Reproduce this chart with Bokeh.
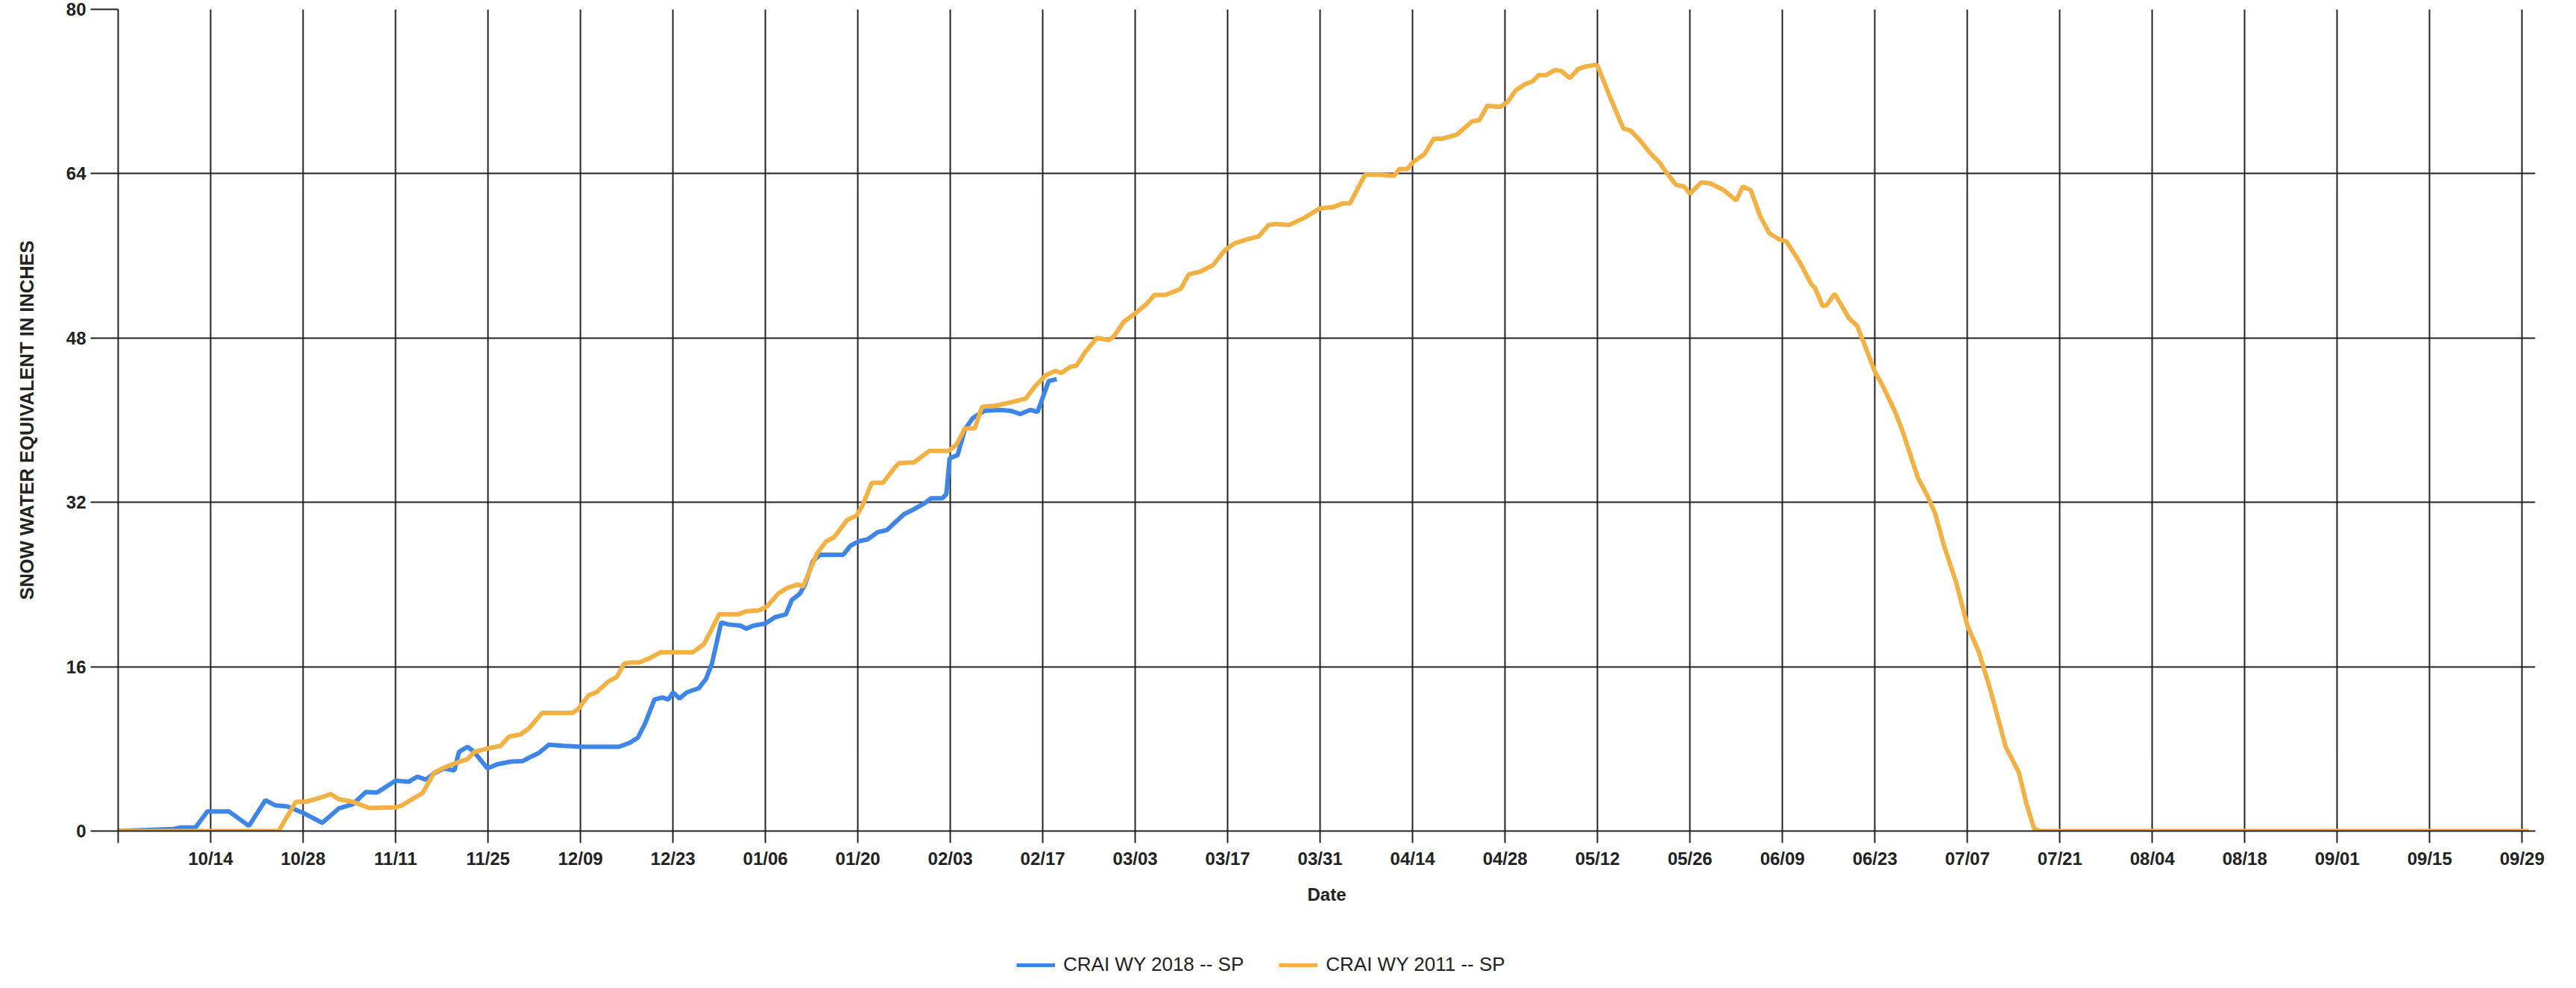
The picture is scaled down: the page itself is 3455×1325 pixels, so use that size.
from bokeh.plotting import figure
from bokeh.models import FixedTicker, Range1d
from bokeh.layouts import column
from bokeh.embed import file_html
from bokeh.resources import INLINE

# ---- data: x = days since 09/30 (start of the water year axis), y = SWE inches ----
tick_labels = ["", "10/14", "10/28", "11/11", "11/25", "12/09", "12/23", "01/06", "01/20",
               "02/03", "02/17", "03/03", "03/17", "03/31", "04/14", "04/28", "05/12",
               "05/26", "06/09", "06/23", "07/07", "07/21", "08/04", "08/18", "09/01",
               "09/15", "09/29"]
tick_days = [0, 14, 28, 42, 56, 70, 84, 98, 112, 126, 140, 154, 168, 182, 196, 210, 224,
             238, 252, 266, 280, 294, 308, 322, 336, 350, 364]
y_ticks = [0, 16, 32, 48, 64, 80]

wy2018_day = [0, 8.4, 9.5, 11.7, 13.5, 16.8, 19.8, 22.3, 23.8, 25.6, 27.9, 30.9, 33.4, 35.5,
              37.5, 39.2, 42, 44, 45.3, 46.6, 47.8, 49.3, 50.9, 51.6, 52.9, 53.9, 55.9, 57.4,
              59.4, 61.2, 62.7, 63.7, 65.2, 67.5, 70, 72.9, 75.8, 77.5, 78.7, 79.8, 81.2,
              82.4, 83.3, 84, 85, 86.1, 87.9, 89, 89.9, 91.3, 92.5, 94.2, 95.1, 96.2, 98,
              99.4, 101.1, 102, 103.2, 104, 105.2, 106.3, 109.8, 110.9, 112.1, 113.5, 115,
              116.4, 117.9, 119, 120.7, 122.2, 123.1, 124.8, 125.4, 125.9, 127.1, 128.2,
              129.4, 131.1, 133.4, 135.2, 136.6, 138.1, 139.2, 140.1, 140.9, 142.1]
wy2018_swe = [0, 0.2, 0.35, 0.35, 1.9, 1.9, 0.5, 3.0, 2.5, 2.4, 1.8, 0.8, 2.2, 2.6,
              3.8, 3.75, 4.9, 4.8, 5.3, 5.0, 5.6, 6.1, 5.9, 7.7, 8.2, 7.7, 6.1, 6.5,
              6.75, 6.8, 7.3, 7.6, 8.4, 8.3, 8.2, 8.2, 8.2, 8.6, 9.1, 10.5, 12.8,
              13.0, 12.8, 13.5, 12.9, 13.5, 13.9, 14.8, 16.3, 20.3, 20.1, 20.0, 19.7, 20.0, 20.2,
              20.8, 21.1, 22.5, 23.1, 24.0, 26.3, 26.9, 26.9, 27.8, 28.2, 28.4, 29.1,
              29.3, 30.2, 30.85, 31.4, 31.95, 32.4, 32.4, 32.8, 36.3, 36.6, 39.1,
              40.2, 40.9, 41.0, 40.9, 40.6, 41.0, 40.8, 42.4, 43.8, 44.0]

wy2011_day = [0, 24.3, 26.9, 28.4, 30.4, 32.2, 33.4, 35.5, 38, 42, 43, 44.5, 46.1, 47.8, 49.1,
              50.6, 52.9, 53.9, 55.7, 57.9, 59.2, 60.9, 62.2, 64.2, 68.8, 69.7, 71.2, 72.4,
              74.3, 75.5, 76.6, 77.5, 78.9, 80.7, 82.1, 87, 88.7, 89.9, 91, 93.9, 95.1, 97.1,
              98.3, 100, 101.4, 102.9, 103.7, 105.8, 107.2, 108.4, 110.4, 111.8, 112.7, 114.1,
              115.8, 117.6, 118.2, 120.5, 122.8, 125.7, 126.9, 128.2, 129.7, 130.8, 132.8,
              134.9, 137.4, 138.9, 140.5, 141.9, 142.8, 144.2, 145.1, 146.5, 148.2, 150,
              150.8, 152.3, 154, 155.7, 156.9, 158.6, 160.9, 162.1, 163.8, 165.8, 167.5, 169,
              170.4, 172.7, 174.2, 175.3, 177.3, 179.6, 181.9, 184, 185.4, 186.5, 188.8,
              190.9, 193.2, 194, 195.2, 196, 197.8, 199.2, 200.4, 202.7, 205, 206.1, 207.3,
              209.3, 210.4, 211.6, 213, 214.2, 215.1, 216.2, 217.6, 218.5, 219.8, 221.1, 222,
              223.7, 224, 225.8, 227.9, 229, 230.5, 231.9, 233.3, 234.5, 235.9, 237.1, 238,
              239.7, 241.1, 243.1, 245, 246, 247.2, 248.6, 250, 251.5, 252.6, 254.6, 256.4,
              256.9, 258.1, 258.7, 259.9, 262.1, 263.3, 264.4, 266, 267.3, 269, 270.2, 272.5,
              273.9, 275.1, 276.5, 278.3, 280, 281.7, 283.5, 285.8, 287.8, 288.9, 290.1,
              290.9, 365]
wy2011_swe = [0, 0, 2.85, 2.85, 3.2, 3.6, 3.1, 2.85, 2.25, 2.3, 2.5, 3.1, 3.7, 5.65, 6.1,
              6.5, 7.0, 7.7, 8.0, 8.3, 9.2, 9.4, 10.0, 11.5, 11.5, 11.9, 13.2, 13.5,
              14.6, 15.0, 16.3, 16.4, 16.4, 16.9, 17.4, 17.4, 18.2, 19.7, 21.1, 21.1, 21.4, 21.5,
              21.9, 23.15, 23.7, 24.0, 23.8, 27.0, 28.2, 28.6, 30.3, 30.7, 31.7, 33.9,
              33.9, 35.4, 35.8, 35.9, 37.0, 37.0, 37.6, 39.2, 39.2, 41.3, 41.4,
              41.7, 42.1, 43.35, 44.4, 44.8, 44.6, 45.2, 45.3, 46.7, 48.0, 47.8,
              48.2, 49.6, 50.4, 51.3, 52.2, 52.2, 52.8, 54.2, 54.45, 55.1, 56.5, 57.2,
              57.5, 57.9, 59.0, 59.1, 59.0, 59.7, 60.6, 60.75, 61.1, 61.1, 63.9,
              63.9, 63.8, 64.45, 64.45, 65.1, 65.9, 67.4, 67.4, 67.8, 69.1, 69.2, 70.6,
              70.5, 71.0, 72.1, 72.7, 73.0, 73.6, 73.6, 74.1, 74.0, 73.3, 74.2, 74.4,
              74.6, 74.5, 71.6, 68.4, 68.2, 67.2, 66.05, 65.15, 64.05, 62.9, 62.75, 62.05,
              63.15, 63.05, 62.4, 61.4, 62.75, 62.4, 59.9, 58.2, 57.6, 57.4, 55.4, 53.2,
              52.9, 51.1, 51.2, 52.3, 49.9, 49.2, 47.4, 44.7, 43.2, 40.9, 38.9, 34.4,
              32.7, 30.95, 27.7, 24.2, 20.0, 17.5, 13.7, 8.2, 5.7, 2.75, 0.25,
              0, 0]

series_names = ["CRAI WY 2018 -- SP", "CRAI WY 2011 -- SP"]
series_colors = ["#3D85E6", "#F4B143"]
series_days = [wy2018_day, wy2011_day]
series_swe = [wy2018_swe, wy2011_swe]

# ---- main chart ----
FONT = "Liberation Sans"
GRID = "#222222"
W = 3439
H_MAIN = 1250
H_LEG = 1309 - H_MAIN

p = figure(width=W, height=H_MAIN, output_backend="svg", toolbar_location=None,
           x_range=Range1d(0, 366), y_range=Range1d(0, 80),
           min_border_left=158, min_border_right=39, min_border_top=12,
           min_border_bottom=H_MAIN - 1114)
p.outline_line_color = None
p.background_fill_color = "white"
p.border_fill_color = "white"

for d, s, col in zip(series_days, series_swe, series_colors):
    p.line(d, s, line_color=col, line_width=6)

xa = p.xaxis[0]
xa.ticker = FixedTicker(ticks=tick_days)
xa.major_label_overrides = {d: lab for d, lab in zip(tick_days, tick_labels)}
xa.minor_tick_line_color = None
xa.major_tick_in = 0
xa.major_tick_out = 16
xa.major_tick_line_color = GRID
xa.major_tick_line_width = 2
xa.axis_line_color = GRID
xa.axis_line_width = 2
xa.major_label_standoff = 7
xa.major_label_text_font = FONT
xa.major_label_text_font_style = "bold"
xa.major_label_text_font_size = "24px"
xa.major_label_text_color = "#222222"
xa.axis_label = "Date"
xa.axis_label_text_font = FONT
xa.axis_label_text_font_style = "bold"
xa.axis_label_text_font_size = "24px"
xa.axis_label_text_color = "#222222"
xa.axis_label_standoff = 18

ya = p.yaxis[0]
ya.ticker = FixedTicker(ticks=y_ticks)
ya.minor_tick_line_color = None
ya.major_tick_in = 0
ya.major_tick_out = 37
ya.major_tick_line_color = GRID
ya.major_tick_line_width = 2
ya.axis_line_color = GRID
ya.axis_line_width = 2
ya.major_label_standoff = 6
ya.major_label_text_font = FONT
ya.major_label_text_font_style = "bold"
ya.major_label_text_font_size = "24px"
ya.major_label_text_color = "#222222"
ya.axis_label = "SNOW WATER EQUIVALENT IN INCHES"
ya.axis_label_text_font = FONT
ya.axis_label_text_font_style = "bold"
ya.axis_label_text_font_size = "25.5px"
ya.axis_label_text_color = "#222222"
ya.axis_label_standoff = 36

p.xgrid.ticker = FixedTicker(ticks=tick_days)
p.ygrid.ticker = FixedTicker(ticks=y_ticks)
for g in (p.xgrid[0], p.ygrid[0]):
    g.grid_line_color = GRID
    g.grid_line_width = 2
    g.grid_line_alpha = 1.0

# ---- legend strip below the chart (series kept out of view; only the legend shows) ----
pl = figure(width=W, height=H_LEG, output_backend="svg", toolbar_location=None,
            x_range=Range1d(0, 366), y_range=Range1d(-1000, -999),
            x_axis_type=None, y_axis_type=None,
            min_border_left=0, min_border_right=0, min_border_top=0, min_border_bottom=0)
pl.outline_line_color = None
pl.background_fill_color = "white"
pl.border_fill_color = "white"
pl.grid.visible = False
for d, s, name, col in zip(series_days, series_swe, series_names, series_colors):
    pl.line(d, s, line_color=col, line_width=5, legend_label=name)

lg = pl.legend[0]
lg.orientation = "horizontal"
lg.location = (1205, 0)
lg.padding = 0
lg.margin = 0
lg.spacing = 47
lg.border_line_color = None
lg.background_fill_alpha = 0
lg.glyph_width = 52
lg.glyph_height = 26
lg.label_height = 26
lg.label_standoff = 11
lg.label_text_font = FONT
lg.label_text_font_size = "26px"
lg.label_text_color = "#222222"

layout = column(p, pl, spacing=0)
open("out.html", "w").write(file_html(layout, INLINE))
